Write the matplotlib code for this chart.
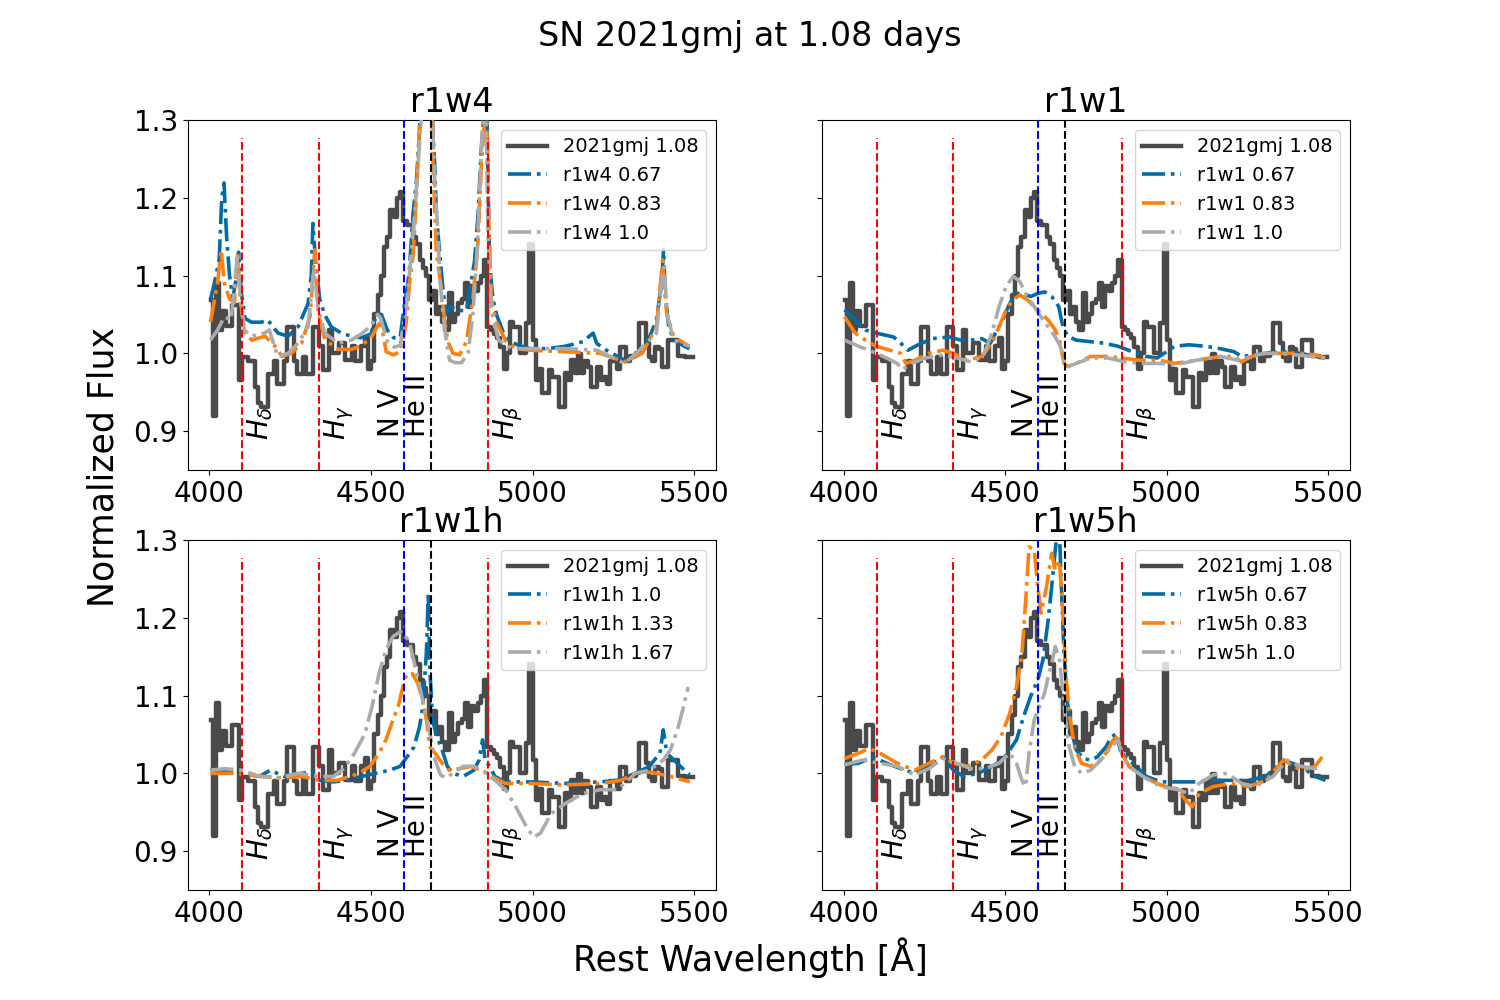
"""SN 2021gmj (1.08 d) spectrum compared with four CMFGEN-like model grids."""
import matplotlib
matplotlib.use("Agg")
import matplotlib.pyplot as plt

# observed spectrum, 10 A bins (bin centres)
obs_wave = list(range(4005, 5500, 10))
obs_flux = [
    1.069, 0.919, 1.090, 1.030, 1.055, 1.035, 1.035, 1.062, 1.062, 0.966,
    0.995, 0.995, 0.990, 0.990, 0.957, 0.936, 0.931, 0.931, 0.974, 0.974,
    0.990, 0.960, 0.960, 0.990, 1.034, 1.034, 0.990, 0.974, 0.974, 0.995,
    0.974, 0.974, 1.034, 1.034, 1.009, 0.978, 0.978, 1.030, 1.000, 1.000,
    1.013, 1.013, 0.991, 0.991, 1.009, 0.990, 0.990, 1.010, 1.020, 0.980,
    0.990, 1.050, 1.075, 1.100, 1.137, 1.150, 1.184, 1.175, 1.200, 1.208,
    1.170, 1.165, 1.165, 1.150, 1.141, 1.120, 1.110, 1.100, 1.068, 1.080,
    1.050, 1.060, 1.040, 1.030, 1.077, 1.040, 1.050, 1.065, 1.070, 1.090,
    1.060, 1.086, 1.080, 1.090, 1.100, 1.120, 1.034, 1.030, 1.025, 1.020,
    1.008, 0.980, 1.000, 1.040, 1.034, 1.034, 1.000, 1.000, 1.039, 1.140,
    1.017, 0.966, 0.980, 0.949, 0.949, 0.978, 0.970, 0.970, 0.931, 0.931,
    0.975, 0.966, 0.991, 0.975, 0.999, 0.975, 0.990, 0.983, 0.957, 0.957,
    0.983, 0.966, 0.970, 0.960, 0.990, 0.990, 0.980, 1.008, 1.008, 0.990,
    0.996, 0.996, 1.000, 1.039, 1.039, 1.013, 0.995, 0.990, 1.008, 1.005,
    0.983, 0.983, 1.017, 1.017, 1.017, 0.996, 0.996, 0.995, 0.995, 0.995,
]

# ---- r1w4 models ----
r1w4_067_wave = [4003, 4015, 4030, 4038, 4045, 4053, 4062, 4072, 4084, 4090,
                 4098, 4110, 4130, 4160, 4180, 4212, 4243, 4274, 4305, 4315,
                 4320, 4328, 4341, 4356, 4377, 4408, 4439, 4470, 4500, 4516,
                 4532, 4550, 4570, 4590, 4602, 4614, 4619, 4630, 4640, 4650,
                 4660, 4672, 4684, 4690, 4697, 4702, 4712, 4723, 4733, 4745,
                 4770, 4795, 4805, 4820, 4831, 4841, 4848, 4855, 4862, 4867,
                 4877, 4888, 4908, 4929, 4960, 4992, 5046, 5100, 5155, 5187,
                 5198, 5220, 5263, 5285, 5318, 5350, 5383, 5399, 5405, 5410,
                 5421, 5437, 5470, 5485]
r1w4_067_flux = [1.069, 1.090, 1.120, 1.200, 1.219, 1.150, 1.100, 1.070, 1.100, 1.130,
                 1.080, 1.045, 1.040, 1.040, 1.043, 1.026, 1.022, 1.034, 1.064, 1.100,
                 1.167, 1.120, 1.070, 1.050, 1.034, 1.026, 1.022, 1.020, 1.025, 1.050,
                 1.050, 1.030, 1.020, 1.020, 1.060, 1.090, 1.110, 1.180, 1.220, 1.285,
                 1.420, 1.480, 1.400, 1.300, 1.240, 1.180, 1.130, 1.080, 1.050, 1.060,
                 1.055, 1.055, 1.080, 1.118, 1.178, 1.263, 1.300, 1.400, 1.220, 1.114,
                 1.070, 1.050, 1.028, 1.015, 1.010, 1.006, 1.006, 1.009, 1.015, 1.026,
                 1.013, 1.006, 0.996, 0.991, 0.996, 1.009, 1.043, 1.090, 1.133, 1.077,
                 1.034, 1.017, 1.009, 1.006]

r1w4_083_wave = [4003, 4025, 4036, 4046, 4062, 4077, 4087, 4095, 4110, 4131,
                 4172, 4203, 4224, 4254, 4285, 4311, 4326, 4337, 4358, 4399,
                 4439, 4470, 4500, 4520, 4530, 4547, 4570, 4588, 4600, 4609,
                 4619, 4630, 4640, 4650, 4660, 4672, 4684, 4692, 4702, 4717,
                 4728, 4738, 4753, 4774, 4795, 4815, 4831, 4841, 4851, 4856,
                 4862, 4872, 4888, 4918, 4950, 4992, 5100, 5209, 5285, 5339,
                 5383, 5402, 5415, 5437, 5485]
r1w4_083_flux = [1.040, 1.090, 1.133, 1.090, 1.070, 1.065, 1.130, 1.070, 1.026, 1.017,
                 1.022, 1.009, 0.996, 1.000, 1.013, 1.047, 1.133, 1.050, 1.017, 1.005,
                 1.005, 1.010, 1.020, 1.035, 1.040, 1.002, 0.998, 1.002, 1.020, 1.040,
                 1.090, 1.126, 1.200, 1.295, 1.400, 1.460, 1.380, 1.240, 1.130, 1.085,
                 1.040, 1.015, 1.000, 0.998, 1.015, 1.070, 1.144, 1.240, 1.300, 1.350,
                 1.200, 1.070, 1.040, 1.015, 1.006, 1.004, 1.002, 1.000, 0.989, 1.000,
                 1.034, 1.120, 1.050, 1.021, 1.009]

r1w4_100_wave = [4003, 4025, 4046, 4067, 4082, 4087, 4098, 4108, 4129, 4170,
                 4185, 4211, 4243, 4274, 4305, 4323, 4336, 4356, 4399, 4439,
                 4470, 4500, 4520, 4530, 4550, 4570, 4590, 4609, 4625, 4635,
                 4645, 4655, 4665, 4678, 4690, 4697, 4707, 4712, 4723, 4733,
                 4743, 4760, 4780, 4800, 4815, 4828, 4840, 4848, 4856, 4862,
                 4872, 4894, 4937, 5000, 5100, 5200, 5285, 5320, 5383, 5402,
                 5408, 5415, 5437, 5485]
r1w4_100_flux = [1.017, 1.030, 1.047, 1.043, 1.107, 1.124, 1.060, 1.030, 1.022, 1.026,
                 1.030, 0.996, 1.000, 1.013, 1.034, 1.107, 1.060, 1.026, 1.013, 1.017,
                 1.025, 1.035, 1.050, 1.045, 1.015, 1.008, 1.010, 1.060, 1.130, 1.180,
                 1.240, 1.300, 1.420, 1.440, 1.300, 1.220, 1.156, 1.100, 1.050, 1.015,
                 0.991, 0.988, 0.988, 1.000, 1.050, 1.130, 1.250, 1.320, 1.300, 1.150,
                 1.056, 1.017, 1.006, 1.006, 1.006, 1.004, 0.987, 1.000, 1.026, 1.103,
                 1.111, 1.050, 1.017, 1.009]

# ---- r1w1 models ----
r1w1_067_wave = [4003, 4036, 4068, 4101, 4155, 4177, 4199, 4231, 4275, 4329,
                 4362, 4394, 4427, 4454, 4470, 4492, 4514, 4535, 4557, 4579,
                 4601, 4622, 4644, 4666, 4674, 4682, 4698, 4720, 4764, 4807,
                 4850, 4894, 4937, 4970, 4992, 5024, 5068, 5122, 5166, 5209,
                 5231, 5274, 5307, 5361, 5415, 5459, 5491]
r1w1_067_flux = [1.056, 1.043, 1.030, 1.026, 1.021, 1.013, 1.004, 1.011, 1.019, 1.021,
                 1.017, 1.017, 1.019, 1.013, 1.026, 1.043, 1.064, 1.077, 1.077, 1.073,
                 1.077, 1.079, 1.073, 1.060, 1.043, 1.030, 1.021, 1.017, 1.015, 1.013,
                 1.009, 1.002, 0.996, 0.994, 1.000, 1.009, 1.011, 1.009, 1.006, 1.002,
                 0.996, 0.998, 1.000, 1.002, 1.000, 0.996, 0.994]

r1w1_083_wave = [4003, 4036, 4068, 4101, 4144, 4177, 4193, 4220, 4264, 4307,
                 4340, 4383, 4427, 4459, 4481, 4503, 4525, 4546, 4568, 4590,
                 4611, 4633, 4655, 4671, 4682, 4693, 4720, 4764, 4818, 4861,
                 4916, 4981, 5024, 5090, 5166, 5209, 5231, 5263, 5307, 5361,
                 5415, 5459, 5491]
r1w1_083_flux = [1.047, 1.026, 1.017, 1.009, 1.004, 1.000, 0.987, 0.991, 1.000, 1.004,
                 1.000, 0.991, 0.996, 1.013, 1.034, 1.056, 1.069, 1.075, 1.069, 1.060,
                 1.051, 1.043, 1.030, 1.013, 0.987, 0.983, 0.987, 0.996, 0.996, 0.994,
                 0.991, 0.991, 0.987, 0.991, 0.996, 0.996, 0.989, 0.996, 1.000, 1.000,
                 1.000, 0.998, 0.994]

r1w1_100_wave = [4003, 4047, 4090, 4133, 4166, 4182, 4210, 4253, 4307, 4351,
                 4394, 4432, 4459, 4481, 4503, 4525, 4546, 4568, 4590, 4611,
                 4633, 4655, 4671, 4682, 4693, 4720, 4764, 4818, 4872, 4926,
                 4981, 5024, 5090, 5166, 5220, 5260, 5300, 5350, 5400, 5491]
r1w1_100_flux = [1.017, 1.009, 1.002, 0.994, 0.987, 0.979, 0.987, 0.994, 0.998, 0.994,
                 0.989, 0.996, 1.026, 1.060, 1.086, 1.099, 1.092, 1.073, 1.060, 1.047,
                 1.034, 1.021, 1.009, 0.989, 0.983, 0.987, 0.994, 0.994, 0.989, 0.987,
                 0.987, 0.985, 0.991, 0.996, 0.991, 0.996, 1.000, 1.000, 0.998, 0.994]

# ---- r1w1h models ----
r1w1h_100_wave = [4003, 4047, 4101, 4155, 4188, 4231, 4286, 4318, 4340, 4383,
                  4427, 4470, 4514, 4557, 4590, 4611, 4633, 4650, 4660, 4671,
                  4677, 4682, 4690, 4704, 4720, 4736, 4753, 4785, 4818, 4834,
                  4845, 4853, 4867, 4883, 4916, 4992, 5100, 5209, 5263, 5318,
                  5361, 5394, 5404, 5415, 5437, 5470, 5486]
r1w1h_100_flux = [1.006, 1.002, 1.000, 0.996, 1.004, 0.996, 1.000, 1.002, 0.991, 0.989,
                  0.991, 0.996, 1.000, 1.004, 1.009, 1.021, 1.034, 1.060, 1.086, 1.154,
                  1.231, 1.133, 1.069, 1.047, 1.030, 1.009, 1.000, 0.996, 1.004, 1.017,
                  1.043, 1.017, 1.009, 0.996, 0.989, 0.989, 0.987, 0.989, 0.991, 1.000,
                  1.009, 1.026, 1.056, 1.026, 1.017, 1.004, 0.998]

r1w1h_133_wave = [4003, 4068, 4123, 4166, 4231, 4286, 4340, 4394, 4438, 4470,
                  4497, 4525, 4546, 4568, 4584, 4601, 4611, 4628, 4644, 4660,
                  4671, 4682, 4698, 4720, 4742, 4774, 4807, 4840, 4861, 4883,
                  4916, 4992, 5100, 5209, 5274, 5318, 5350, 5383, 5426, 5486]
r1w1h_133_flux = [1.000, 1.000, 0.998, 0.996, 0.994, 0.996, 0.991, 0.991, 0.996, 1.002,
                  1.009, 1.026, 1.043, 1.069, 1.086, 1.116, 1.128, 1.128, 1.116, 1.094,
                  1.069, 1.034, 1.026, 1.013, 1.004, 1.006, 1.009, 1.004, 1.000, 0.994,
                  0.987, 0.987, 0.985, 0.987, 0.991, 1.000, 1.002, 1.000, 0.996, 0.989]

r1w1h_167_wave = [4003, 4047, 4101, 4155, 4210, 4275, 4340, 4383, 4416, 4449,
                  4481, 4503, 4525, 4546, 4568, 4590, 4606, 4622, 4644, 4666,
                  4682, 4698, 4715, 4731, 4753, 4785, 4818, 4850, 4883, 4916,
                  4948, 4981, 5003, 5024, 5057, 5100, 5155, 5209, 5263, 5318,
                  5361, 5404, 5426, 5448, 5464, 5481]
r1w1h_167_flux = [1.004, 1.006, 1.004, 0.996, 0.994, 1.000, 0.996, 0.996, 1.006, 1.026,
                  1.051, 1.086, 1.129, 1.159, 1.176, 1.182, 1.178, 1.163, 1.124, 1.081,
                  1.051, 1.017, 0.998, 0.994, 1.000, 1.009, 1.009, 1.002, 0.991, 0.979,
                  0.957, 0.931, 0.918, 0.923, 0.948, 0.961, 0.974, 0.979, 0.979, 1.000,
                  1.004, 1.017, 1.030, 1.056, 1.081, 1.111]

# ---- r1w5h models ----
r1w5h_067_wave = [4003, 4047, 4090, 4133, 4177, 4220, 4264, 4307, 4340, 4372,
                  4416, 4459, 4492, 4514, 4535, 4557, 4579, 4601, 4617, 4633,
                  4644, 4655, 4666, 4674, 4682, 4693, 4704, 4720, 4742, 4764,
                  4785, 4812, 4829, 4845, 4856, 4872, 4905, 4937, 4981, 5035,
                  5090, 5144, 5198, 5253, 5307, 5361, 5415, 5459, 5491]
r1w5h_067_flux = [1.011, 1.013, 1.021, 1.013, 1.006, 1.000, 1.009, 1.021, 1.004, 0.996,
                  1.000, 1.009, 1.017, 1.030, 1.043, 1.073, 1.099, 1.120, 1.146, 1.197,
                  1.240, 1.287, 1.330, 1.240, 1.154, 1.090, 1.056, 1.030, 1.019, 1.017,
                  1.021, 1.034, 1.047, 1.051, 1.030, 1.021, 1.009, 0.996, 0.989, 0.989,
                  0.989, 0.991, 0.991, 0.991, 0.996, 1.017, 1.009, 0.996, 0.991]

r1w5h_083_wave = [4003, 4047, 4079, 4112, 4166, 4220, 4264, 4307, 4340, 4383,
                  4427, 4459, 4487, 4514, 4535, 4552, 4563, 4574, 4590, 4601,
                  4611, 4628, 4644, 4655, 4668, 4677, 4687, 4698, 4715, 4736,
                  4764, 4785, 4812, 4834, 4850, 4861, 4883, 4926, 4981, 5035,
                  5057, 5079, 5100, 5144, 5198, 5253, 5307, 5361, 5415, 5459,
                  5481]
r1w5h_083_flux = [1.019, 1.026, 1.032, 1.026, 1.013, 1.004, 1.013, 1.021, 1.013, 1.009,
                  1.017, 1.030, 1.047, 1.077, 1.111, 1.154, 1.219, 1.291, 1.287, 1.240,
                  1.206, 1.240, 1.283, 1.261, 1.274, 1.219, 1.133, 1.077, 1.034, 1.013,
                  1.009, 1.013, 1.026, 1.043, 1.047, 1.026, 1.009, 0.996, 0.985, 0.979,
                  0.966, 0.957, 0.974, 0.983, 0.987, 0.983, 0.991, 1.017, 1.004, 1.009,
                  1.021]

r1w5h_100_wave = [4003, 4058, 4112, 4166, 4220, 4264, 4307, 4351, 4394, 4438,
                  4481, 4514, 4535, 4552, 4563, 4574, 4590, 4606, 4622, 4633,
                  4644, 4655, 4668, 4677, 4687, 4698, 4715, 4736, 4764, 4796,
                  4829, 4850, 4861, 4883, 4926, 4981, 5035, 5068, 5100, 5144,
                  5187, 5231, 5274, 5329, 5372, 5415, 5459, 5481]
r1w5h_100_flux = [1.011, 1.017, 1.013, 1.009, 0.998, 1.006, 1.019, 1.013, 1.006, 1.006,
                  1.013, 1.026, 1.013, 0.991, 0.983, 1.026, 1.069, 1.086, 1.103, 1.124,
                  1.141, 1.163, 1.146, 1.111, 1.069, 1.034, 1.009, 1.000, 1.004, 1.017,
                  1.034, 1.043, 1.026, 1.009, 0.996, 0.983, 0.979, 0.974, 0.987, 0.998,
                  1.000, 0.987, 0.983, 0.996, 1.017, 1.009, 1.006, 1.009]

panel_names = ["r1w4", "r1w1", "r1w1h", "r1w5h"]
panel_epochs = [["0.67", "0.83", "1.0"], ["0.67", "0.83", "1.0"],
                ["1.0", "1.33", "1.67"], ["0.67", "0.83", "1.0"]]
panel_models = [
    [(r1w4_067_wave, r1w4_067_flux), (r1w4_083_wave, r1w4_083_flux),
     (r1w4_100_wave, r1w4_100_flux)],
    [(r1w1_067_wave, r1w1_067_flux), (r1w1_083_wave, r1w1_083_flux),
     (r1w1_100_wave, r1w1_100_flux)],
    [(r1w1h_100_wave, r1w1h_100_flux), (r1w1h_133_wave, r1w1h_133_flux),
     (r1w1h_167_wave, r1w1h_167_flux)],
    [(r1w5h_067_wave, r1w5h_067_flux), (r1w5h_083_wave, r1w5h_083_flux),
     (r1w5h_100_wave, r1w5h_100_flux)],
]

# line identifications
balmer_waves = [4102, 4340, 4861]
balmer_labels = [r"$H_\delta$", r"$H_\gamma$", r"$H_\beta$"]
nv_wave = 4603
heii_wave = 4686

MODEL_COLORS = ["#006BA4", "#FF800E", "#ABABAB"]
OBS_COLOR = "#4a4a4a"


def _draw_panel(ax, name, epochs, models):
    ax.plot(obs_wave, obs_flux, drawstyle="steps-mid", color=OBS_COLOR,
            lw=3.2, label="2021gmj 1.08", zorder=2)
    for (w, f), ep, col in zip(models, epochs, MODEL_COLORS):
        ax.plot(w, f, ls="-.", color=col, lw=2.6, label=f"{name} {ep}",
                zorder=3)

    for wl, lab in zip(balmer_waves, balmer_labels):
        ax.axvline(wl, ymax=0.95, color="r", ls="--", lw=1.5, zorder=4)
        ax.text(wl + 10, 0.888, lab, rotation=90, fontsize=20,
                ha="left", va="bottom")
    ax.axvline(nv_wave, color="b", ls="--", lw=1.5, zorder=4)
    ax.axvline(heii_wave, color="k", ls="--", lw=1.5, zorder=4)
    ax.text(nv_wave - 84, 0.893, "N V", rotation=90, fontsize=20,
            ha="left", va="bottom")
    ax.text(nv_wave - 3, 0.893, "He II", rotation=90, fontsize=20,
            ha="left", va="bottom")

    ax.set_title(name, fontsize=24)
    ax.set_xlim(3932, 5567)
    ax.set_ylim(0.85, 1.3)
    ax.set_xticks([4000, 4500, 5000, 5500])
    ax.set_yticks([0.9, 1.0, 1.1, 1.2, 1.3])
    ax.tick_params(labelsize=20)
    ax.legend(loc="upper right", fontsize=14)


fig, axes = plt.subplots(2, 2, figsize=(15, 10), dpi=100, sharey=True)
for ax, name, epochs, models in zip(axes.flat, panel_names, panel_epochs,
                                    panel_models):
    _draw_panel(ax, name, epochs, models)

fig.suptitle("SN 2021gmj at 1.08 days", fontsize=24)
fig.text(0.5, 0.042, "Rest Wavelength [Å]", fontsize=25,
         ha="center", va="center")
fig.text(0.069, 0.533, "Normalized Flux", fontsize=25, rotation=90,
         ha="center", va="center")

fig.savefig("out.png", dpi=100, facecolor="white")
